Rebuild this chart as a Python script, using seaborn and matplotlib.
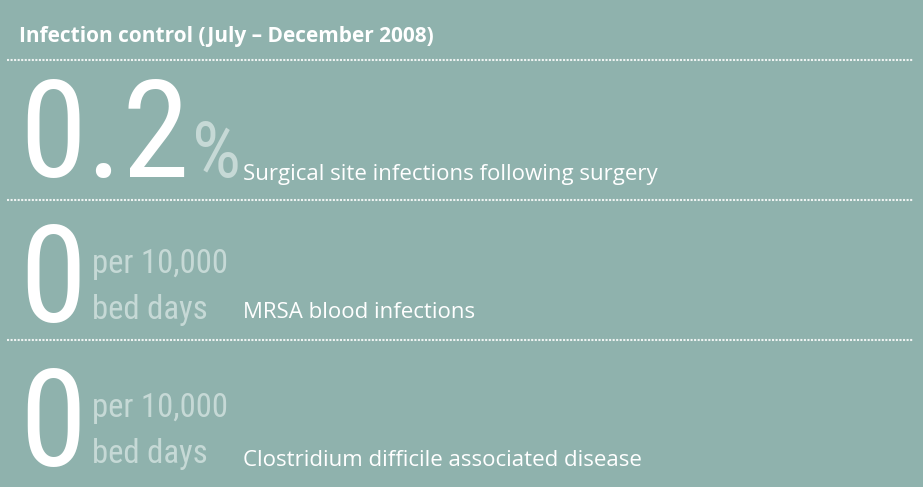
import matplotlib
matplotlib.use("Agg")
import matplotlib.pyplot as plt
from matplotlib import font_manager
import seaborn as sns

# panel content
title = "Infection control (July \u2013 December 2008)"
values = ["0.2", "0", "0"]
units = ["%", "per 10,000\nbed days", "per 10,000\nbed days"]
labels = ["Surgical site infections following surgery",
          "MRSA blood infections",
          "Clostridium difficile associated disease"]

BG = "#8fb2ad"
UNIT = "#c6d9d6"
LINE = "#eef3f2"

sns.set_theme(style="white", rc={"figure.facecolor": BG, "axes.facecolor": BG})
plt.rcParams["font.family"] = ["Open Sans", "DejaVu Sans"]


def pick_condensed():
    wanted = ["RobotoCondensed-Regular", "RobotoCondensed-Light", "Roboto_Condensed",
              "LiberationSansNarrow-Regular", "DejaVuSansCondensed.ttf"]
    files = [f.fname for f in font_manager.fontManager.ttflist]
    for w in wanted:
        for fn in files:
            if w in fn:
                return font_manager.FontProperties(fname=fn)
    return font_manager.FontProperties(family="DejaVu Sans", stretch="condensed")


cond = pick_condensed()

fig = plt.figure(figsize=(9.23, 4.87), dpi=100)
ax = fig.add_axes([0, 0, 1, 1])
ax.set_xlim(0, 923)
ax.set_ylim(487, 0)
ax.axis("off")

ax.text(19, 42, title, color="white", fontsize=15, fontweight="bold", va="baseline")

row_top = [60, 200, 340]
num_base = [177, 322, 466]
lab_base = [180, 318, 466]
for y in row_top:
    ax.hlines(y, 7, 913, color=LINE, linewidth=1.5, linestyles=(0, (1, 0.7)))

fig.canvas.draw()
r = fig.canvas.get_renderer()

for i, (v, u, lab) in enumerate(zip(values, units, labels)):
    base = num_base[i]
    p = cond.copy()
    p.set_size(98)
    t = ax.text(19, base, v, color="white", fontproperties=p, va="baseline")
    x_end = t.get_window_extent(r).x1
    up = cond.copy()
    if u == "%":
        up.set_size(56)
        ax.text(x_end + 2, base, u, color=UNIT, fontproperties=up, va="baseline")
    else:
        up.set_size(23.5)
        first, second = u.split("\n")
        ax.text(x_end + 6, base - 49, first, color=UNIT, fontproperties=up, va="baseline")
        ax.text(x_end + 6, base - 3, second, color=UNIT, fontproperties=up, va="baseline")
    ax.text(243, lab_base[i], lab, color="white", fontsize=16, va="baseline")

fig.savefig("out.png", dpi=100, facecolor=BG)
